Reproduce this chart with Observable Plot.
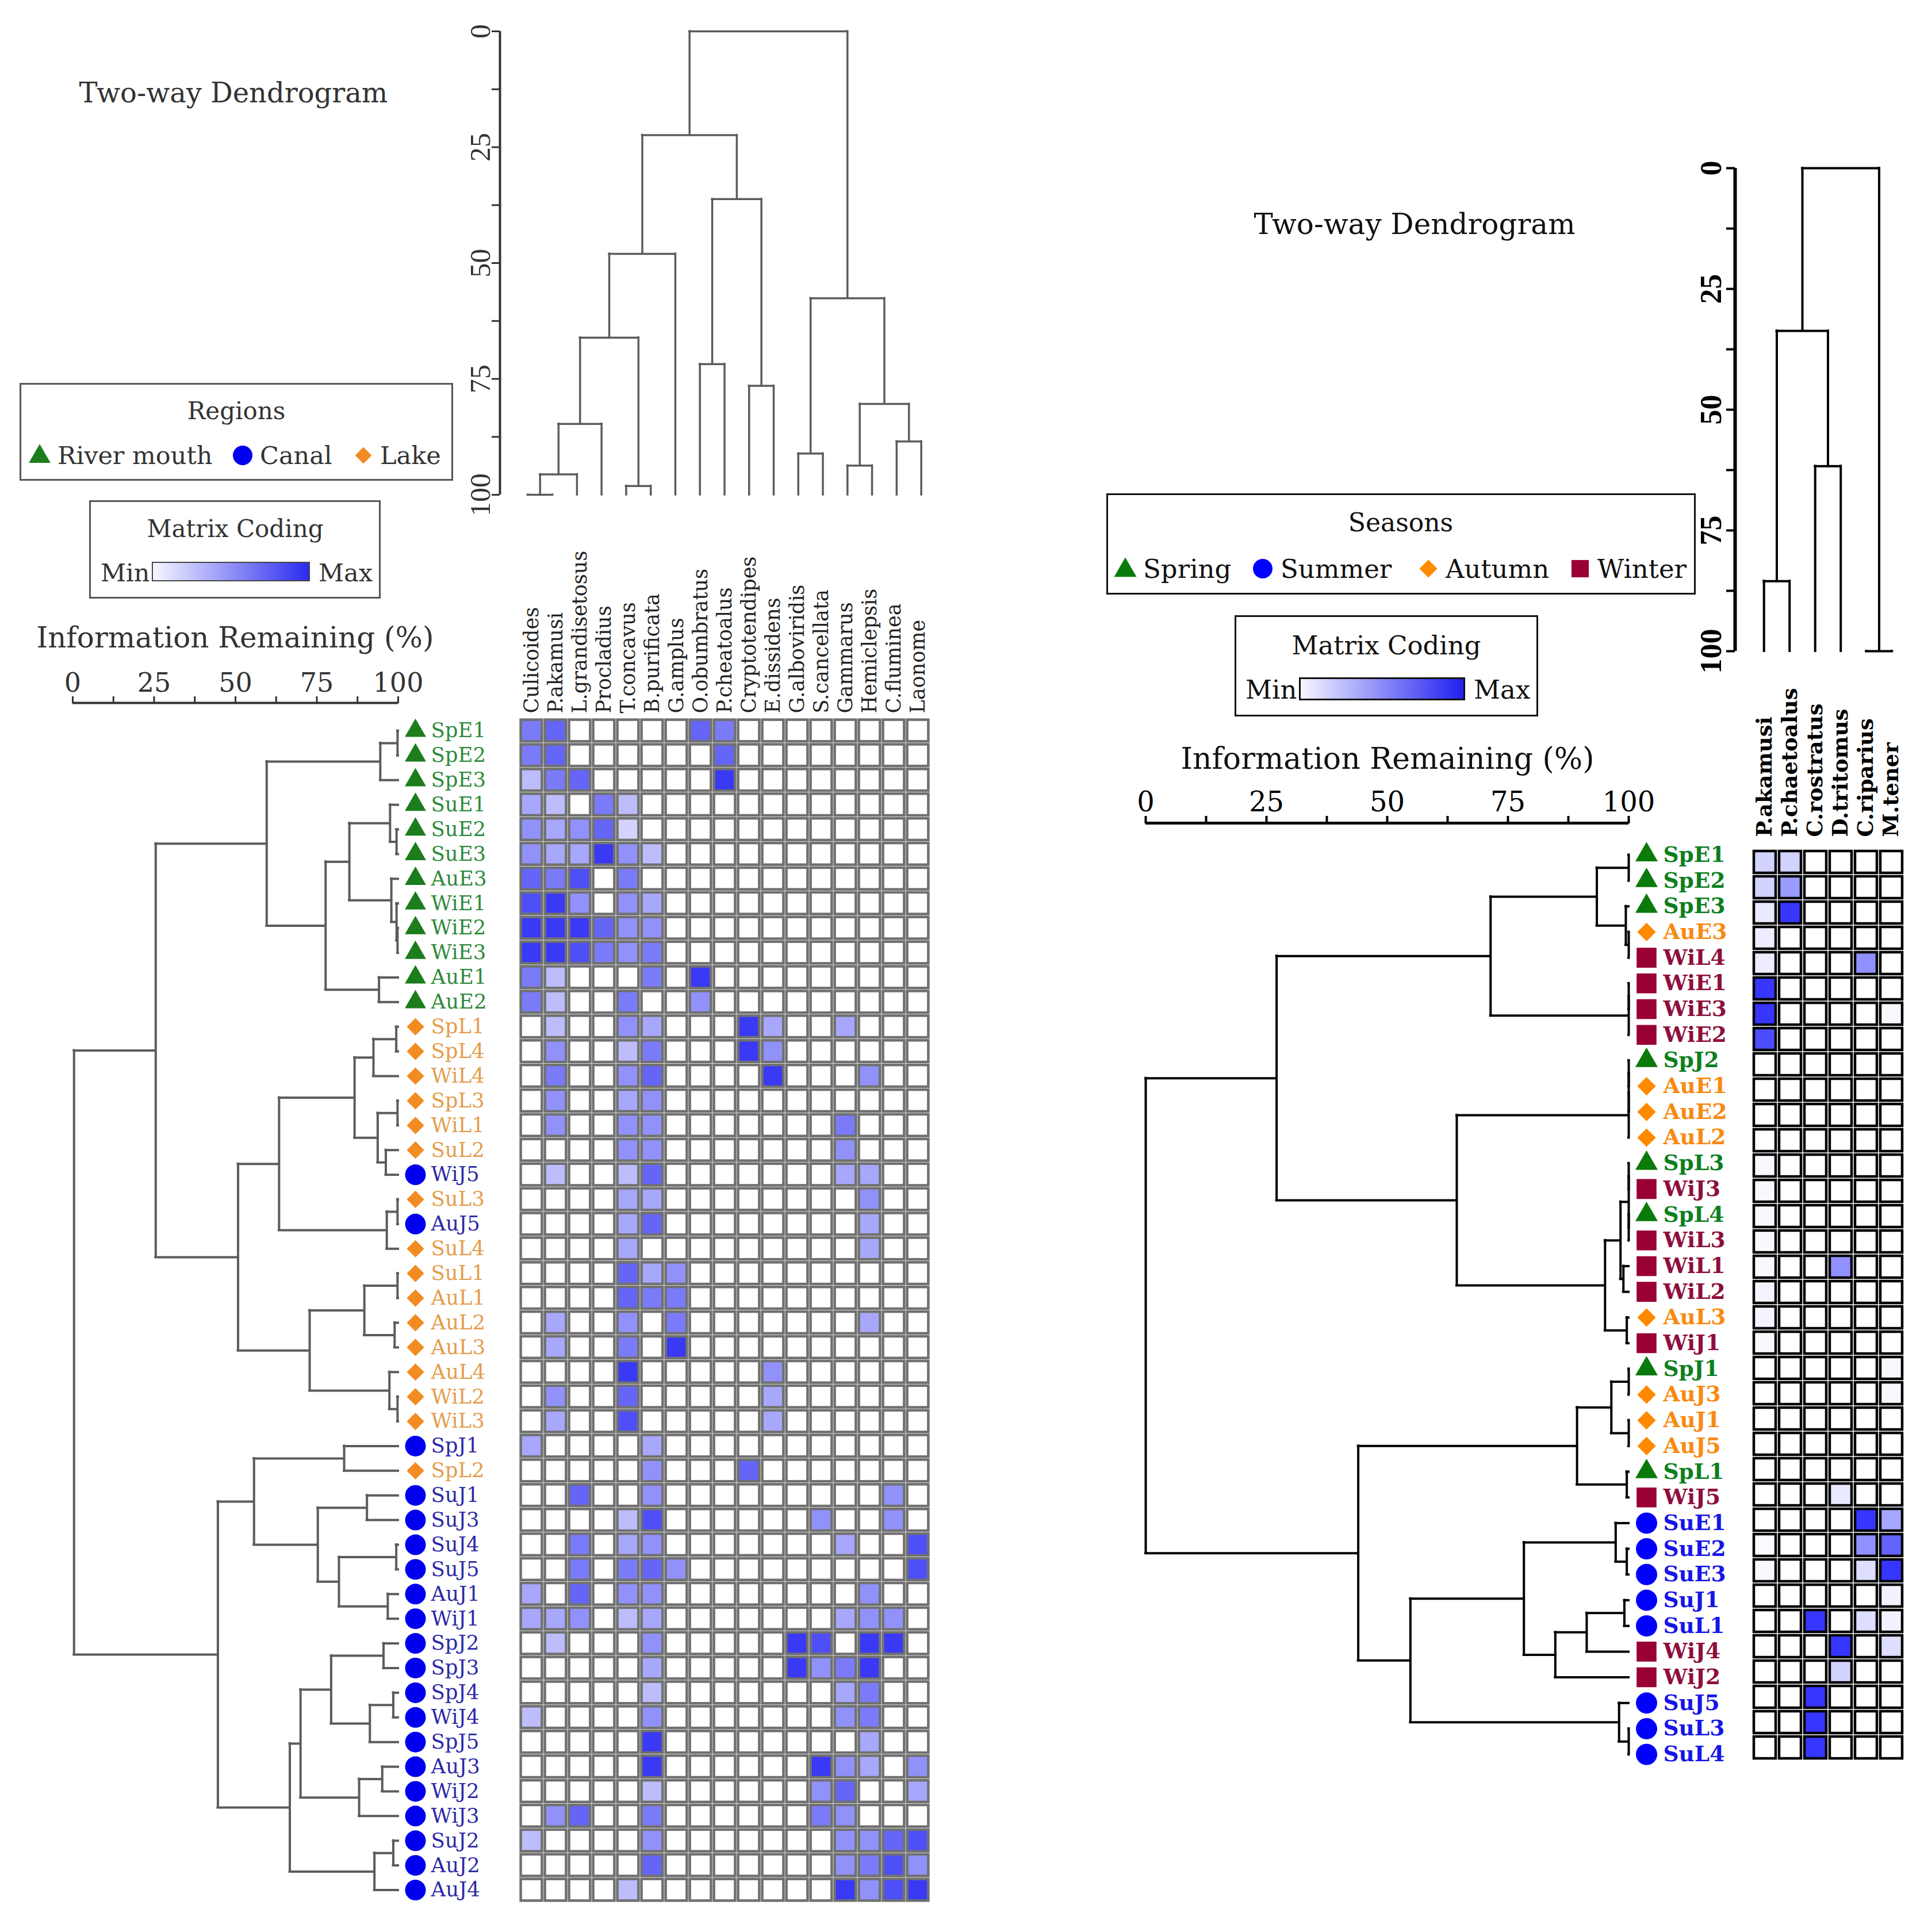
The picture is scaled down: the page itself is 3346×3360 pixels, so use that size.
<!DOCTYPE html>
<html><head><meta charset="utf-8">
<script src="https://cdn.jsdelivr.net/npm/d3@7"></script>
<script src="https://cdn.jsdelivr.net/npm/@observablehq/plot@0.6"></script>
<style>
html,body{margin:0;padding:0;background:#fff;}
#root{position:relative;width:3346px;height:3360px;background:#fff;overflow:hidden;}
.t{position:absolute;white-space:nowrap;line-height:1;}
.box{position:absolute;box-sizing:border-box;}
</style></head><body><div id="root"></div>
<script>
// ---------------- DATA ----------------
const infoTicks = [0, 12.5, 25, 37.5, 50, 62.5, 75, 87.5, 100];
const infoTickLabels = [0, 25, 50, 75, 100];

const regionNames = ["River mouth", "Canal", "Lake"];
const seasonNames = ["Spring", "Summer", "Autumn", "Winter"];

const leftCols = ["Culicoides","P.akamusi","L.grandisetosus","Procladius","T.concavus","B.purificata","G.amplus","O.obumbratus","P.cheatoalus","Cryptotendipes","E.dissidens","G.alboviridis","S.cancellata","Gammarus","Hemiclepsis","C.fluminea","Laonome"];
const leftRows = ["SpE1","SpE2","SpE3","SuE1","SuE2","SuE3","AuE3","WiE1","WiE2","WiE3","AuE1","AuE2",
  "SpL1","SpL4","WiL4","SpL3","WiL1","SuL2","WiJ5","SuL3","AuJ5","SuL4","SuL1","AuL1","AuL2","AuL3","AuL4","WiL2","WiL3",
  "SpJ1","SpL2","SuJ1","SuJ3","SuJ4","SuJ5","AuJ1","WiJ1","SpJ2","SpJ3","SpJ4","WiJ4","SpJ5","AuJ3","WiJ2","WiJ3","SuJ2","AuJ2","AuJ4"];
// relative abundance (0 = min, 10 = max), one row per sample, columns as leftCols
const leftValues = [
  [6,7,0,0,0,0,0,7,6,0,0,0,0,0,0,0,0],
  [6,7,0,0,0,0,0,0,7,0,0,0,0,0,0,0,0],
  [3,6,7,0,0,0,0,0,9,0,0,0,0,0,0,0,0],
  [4,3,0,6,3,0,0,0,0,0,0,0,0,0,0,0,0],
  [5,4,5,7,2,0,0,0,0,0,0,0,0,0,0,0,0],
  [5,4,4,9,5,3,0,0,0,0,0,0,0,0,0,0,0],
  [7,6,8,0,6,0,0,0,0,0,0,0,0,0,0,0,0],
  [8,9,5,0,5,4,0,0,0,0,0,0,0,0,0,0,0],
  [9,9,9,7,5,5,0,0,0,0,0,0,0,0,0,0,0],
  [9,9,8,6,5,6,0,0,0,0,0,0,0,0,0,0,0],
  [6,3,0,0,0,6,0,9,0,0,0,0,0,0,0,0,0],
  [6,3,0,0,6,0,0,5,0,0,0,0,0,0,0,0,0],
  [0,3,0,0,5,4,0,0,0,9,4,0,0,4,0,0,0],
  [0,5,0,0,3,6,0,0,0,9,5,0,0,0,0,0,0],
  [0,6,0,0,5,7,0,0,0,0,9,0,0,0,5,0,0],
  [0,5,0,0,4,5,0,0,0,0,0,0,0,0,0,0,0],
  [0,5,0,0,5,5,0,0,0,0,0,0,0,6,0,0,0],
  [0,0,0,0,5,5,0,0,0,0,0,0,0,5,0,0,0],
  [0,3,0,0,3,7,0,0,0,0,0,0,0,4,4,0,0],
  [0,0,0,0,4,4,0,0,0,0,0,0,0,0,5,0,0],
  [0,0,0,0,4,7,0,0,0,0,0,0,0,0,4,0,0],
  [0,0,0,0,4,0,0,0,0,0,0,0,0,0,4,0,0],
  [0,0,0,0,7,4,5,0,0,0,0,0,0,0,0,0,0],
  [0,0,0,0,7,6,6,0,0,0,0,0,0,0,0,0,0],
  [0,4,0,0,5,0,6,0,0,0,0,0,0,0,4,0,0],
  [0,4,0,0,6,0,9,0,0,0,0,0,0,0,0,0,0],
  [0,0,0,0,9,0,0,0,0,0,5,0,0,0,0,0,0],
  [0,5,0,0,7,0,0,0,0,0,4,0,0,0,0,0,0],
  [0,4,0,0,8,0,0,0,0,0,4,0,0,0,0,0,0],
  [4,0,0,0,0,4,0,0,0,0,0,0,0,0,0,0,0],
  [0,0,0,0,0,5,0,0,0,7,0,0,0,0,0,0,0],
  [0,0,7,0,0,5,0,0,0,0,0,0,0,0,0,5,0],
  [0,0,0,0,3,8,0,0,0,0,0,0,5,0,0,5,0],
  [0,0,6,0,4,5,0,0,0,0,0,0,0,4,0,0,8],
  [0,0,6,0,6,7,5,0,0,0,0,0,0,0,0,0,8],
  [4,0,7,0,5,5,0,0,0,0,0,0,0,0,5,0,0],
  [4,4,5,0,3,4,0,0,0,0,0,0,0,4,5,5,0],
  [0,3,0,0,0,5,0,0,0,0,0,9,8,0,9,9,0],
  [0,0,0,0,0,4,0,0,0,0,0,9,5,6,9,0,0],
  [0,0,0,0,0,3,0,0,0,0,0,0,0,4,6,0,0],
  [3,0,0,0,0,5,0,0,0,0,0,0,0,5,6,0,0],
  [0,0,0,0,0,9,0,0,0,0,0,0,0,0,4,0,0],
  [0,0,0,0,0,9,0,0,0,0,0,0,9,5,4,0,5],
  [0,0,0,0,0,3,0,0,0,0,0,0,5,7,0,0,4],
  [0,5,7,0,0,6,0,0,0,0,0,0,6,5,0,0,0],
  [3,0,0,0,0,5,0,0,0,0,0,0,0,5,5,7,8],
  [0,0,0,0,0,7,0,0,0,0,0,0,0,5,6,8,5],
  [0,0,0,0,3,0,0,0,0,0,0,0,0,9,5,8,9]
];
// dendrograms: [information remaining (%), left, right]; leaves are joined at 100
const leftRowTree = [0.4,
  [25.5,
    [59.6,
      [94.5, [99.8, "SpE1", "SpE2"], "SpE3"],
      [77.7,
        [85.0,
          [97.5, "SuE1", [99.5, "SuE2", "SuE3"]],
          [97.9, "AuE3", [99.5, "WiE1", [99.8, "WiE2", "WiE3"]]]],
        [94.1, "AuE1", "AuE2"]]],
    [50.8,
      [63.4,
        [86.6,
          [92.4, [99.4, "SpL1", "SpL4"], "WiL4"],
          [93.7, [99.8, "SpL3", "WiL1"], [96.2, "SuL2", "WiJ5"]]],
        [96.5, [99.8, "SuL3", "AuJ5"], "SuL4"]],
      [72.8,
        [89.6, [99.8, "SuL1", "AuL1"], [98.9, "AuL2", "AuL3"]],
        [97.3, "AuL4", [99.8, "WiL2", "WiL3"]]]]],
  [44.6,
    [55.7,
      [83.4, "SpJ1", "SpL2"],
      [75.3,
        [90.4, "SuJ1", "SuJ3"],
        [81.8, [99.4, "SuJ4", "SuJ5"], [96.8, "AuJ1", "WiJ1"]]]],
    [66.7,
      [70.0,
        [79.4, [95.5, "SpJ2", "SpJ3"], [91.3, [98.5, "SpJ4", "WiJ4"], "SpJ5"]],
        [88.0, [95.1, "AuJ3", "WiJ2"], "WiJ3"]],
      [92.7, [98.5, "SuJ2", "AuJ2"], "AuJ4"]]]];
const leftColTree = [0,
  [22.4,
    [48.0,
      [66.1,
        [84.7, [95.6, [100, "Culicoides", "P.akamusi"], "L.grandisetosus"], "Procladius"],
        [98.1, "T.concavus", "B.purificata"]],
      "G.amplus"],
    [36.2, [71.8, "O.obumbratus", "P.cheatoalus"], [76.5, "Cryptotendipes", "E.dissidens"]]],
  [57.6,
    [91.1, "G.alboviridis", "S.cancellata"],
    [80.4, [93.7, "Gammarus", "Hemiclepsis"], [88.5, "C.fluminea", "Laonome"]]]];

const rightCols = ["P.akamusi","P.chaetoalus","C.rostratus","D.tritomus","C.riparius","M.tener"];
const rightRows = ["SpE1","SpE2","SpE3","AuE3","WiL4","WiE1","WiE3","WiE2","SpJ2","AuE1","AuE2","AuL2",
  "SpL3","WiJ3","SpL4","WiL3","WiL1","WiL2","AuL3","WiJ1","SpJ1","AuJ3","AuJ1","AuJ5","SpL1","WiJ5",
  "SuE1","SuE2","SuE3","SuJ1","SuL1","WiJ4","WiJ2","SuJ5","SuL3","SuL4"];
const rightValues = [
  [2,2,0,0,0,0],[2,4.5,0,0,0,0],[1,9,0,0,0,0],[0.8,0,0,0,0,0],[0.8,0,0,0,5,0],
  [9,0,0,0,0,0],[9,0,0,0,0,0.3],[8,0,0,0,0,0],[0,0,0,0,0,0],[0,0,0,0,0,0],
  [0,0,0,0,0,0],[0,0,0,0,0,0],[0.3,0,0,0,0,0],[0.3,0,0,0,0,0],[0.3,0,0,0,0,0],
  [0.3,0,0,0,0,0],[0.3,0,0,5,0,0],[0.5,0,0,0,0,0],[0.5,0,0,0,0,0],[0.3,0,0,0,0,0],
  [0,0,0,0,0,0.3],[0,0,0,0,0,0.3],[0,0,0,0,0,0],[0,0,0,0,0,0],[0,0,0,0,0,0],
  [0,0,0,1,0,0],[0,0,0,0,9,4],[0.2,0,0,0,5,7],[0.3,0,0,0,1.5,9],[0,0,0,0,0,0.6],
  [0,0,9,0,1.5,0.6],[0,0,0,9,0,1.5],[0,0,0,2,0,0],[0,0,9,0,0,0],[0,0,9,0,0,0],[0,0,9,0,0,0]
];
const rightRowTree = [0,
  [27.1,
    [71.4,
      [93.4, [100, "SpE1", "SpE2"], [99.4, "SpE3", [100, "AuE3", "WiL4"]]],
      [100, [100, "WiE1", "WiE3"], "WiE2"]],
    [64.4,
      [100, [100, [100, "SpJ2", "AuE1"], "AuE2"], "AuL2"],
      [95.1,
        [98.3, [100, [100, "SpL3", "WiJ3"], [100, "SpL4", "WiL3"]], [98.9, "WiL1", "WiL2"]],
        [99.6, "AuL3", "WiJ1"]]]],
  [44.0,
    [89.3,
      [96.4, [100, "SpJ1", "AuJ3"], [100, "AuJ1", "AuJ5"]],
      [99.6, "SpL1", "WiJ5"]],
    [54.8,
      [78.3,
        [97.3, "SuE1", [99.6, "SuE2", "SuE3"]],
        [84.8, [91.3, [99.1, "SuJ1", "SuL1"], "WiJ4"], "WiJ2"]],
      [98.0, "SuJ5", [100, "SuL3", "SuL4"]]]]];
const rightColTree = [0,
  [33.7, [85.5, "P.akamusi", "P.chaetoalus"], [61.7, "C.rostratus", "D.tritomus"]],
  [100, "C.riparius", "M.tener"]];

// ---------------- HELPERS ----------------
const root = document.getElementById("root");
function addPlot(left, top, options) {
  const el = Plot.plot({...options, style: {background: "transparent", maxWidth: "none", overflow: "visible"}});
  el.style.position = "absolute";
  el.style.left = left + "px";
  el.style.top = top + "px";
  root.appendChild(el);
  return el;
}
function dendro(tree, order) {
  const legs = [], bars = [];
  (function walk(n) {
    if (typeof n === "string") return {pos: order.indexOf(n) + 0.5, h: 100};
    const [h, a, b] = n;
    const A = walk(a), B = walk(b);
    legs.push({pos: A.pos, h1: A.h, h2: h});
    legs.push({pos: B.pos, h1: B.h, h2: h});
    bars.push({h, p1: A.pos, p2: B.pos});
    return {pos: (A.pos + B.pos) / 2, h};
  })(tree);
  return {legs, bars};
}
function cellsOf(rows, cols, values) {
  const out = [];
  rows.forEach((r, i) => cols.forEach((c, j) => out.push({row: r, col: c, v: values[i][j]})));
  return out;
}
function txt(str, x, y, {size, family = "DejaVu Serif", color = "#333", anchor = "middle", weight = "normal"}) {
  const d = document.createElement("div");
  d.className = "t";
  d.textContent = str;
  d.style.left = x + "px"; d.style.top = y + "px";
  d.style.fontSize = size + "px"; d.style.fontFamily = family; d.style.color = color; d.style.fontWeight = weight;
  d.style.transform = anchor === "middle" ? "translate(-50%,-50%)" : "translate(0,-50%)";
  root.appendChild(d);
}
function box(x1, y1, x2, y2, border) {
  const d = document.createElement("div");
  d.className = "box";
  Object.assign(d.style, {left: x1 + "px", top: y1 + "px", width: (x2 - x1) + "px", height: (y2 - y1) + "px", border});
  root.appendChild(d);
  return d;
}
const symMap = {triangle: d3.symbolTriangle, circle: d3.symbolCircle, diamond2: d3.symbolDiamond2, square: d3.symbolSquare};
function sym(type, cx, cy, r, color) {
  const ns = "http://www.w3.org/2000/svg";
  const s = document.createElementNS(ns, "svg");
  s.setAttribute("width", 60); s.setAttribute("height", 60);
  s.style.position = "absolute"; s.style.left = (cx - 30) + "px"; s.style.top = (cy - 30) + "px";
  const p = document.createElementNS(ns, "path");
  p.setAttribute("d", d3.symbol(symMap[type], Math.PI * r * r)());
  p.setAttribute("transform", "translate(30,30)");
  p.setAttribute("fill", color);
  s.appendChild(p);
  root.appendChild(s);
}

// ---------------- LEFT PANEL ----------------
const regionStyle = {
  "River mouth": {symbol: "triangle", r: 13.7, fill: "#1b7d1b", text: "#2f8a3c"},
  "Canal": {symbol: "circle", r: 18, fill: "#0000ee", text: "#2a2aa6"},
  "Lake": {symbol: "diamond2", r: 13.6, fill: "#f28b22", text: "#e39d4c"}
};
const regionOf = s => ({E: "River mouth", J: "Canal", L: "Lake"})[s[2]];
const leftRowData = leftRows.map((label, i) => ({label, pos: i + 0.5, group: regionOf(label)}));
const LR = dendro(leftRowTree, leftRows);
const LC = dendro(leftColTree, leftCols);
const grayLine = {stroke: "#5c5c5c", strokeWidth: 4, strokeLinecap: "square"};

// information axis (left)
addPlot(0, 1100, {
  width: 890, height: 130, marginLeft: 126, marginRight: 198, marginTop: 122, marginBottom: 0,
  x: {domain: [0, 100], axis: null}, y: {domain: [0, 1], axis: null},
  marks: [
    Plot.ruleY([1], {stroke: "#333", strokeWidth: 4}),
    Plot.axisX(infoTicks, {anchor: "top", tickSize: 12, tickPadding: 8, strokeWidth: 3, color: "#333",
      tickFormat: d => infoTickLabels.includes(d) ? String(d) : "", fontSize: 46, fontFamily: "DejaVu Serif"})
  ]
});
// row dendrogram + labels (left)
addPlot(0, 1200, {
  width: 890, height: 2158, marginLeft: 126, marginRight: 198, marginTop: 49, marginBottom: 50,
  x: {domain: [0, 100], axis: null},
  y: {domain: [0, leftRows.length], reverse: true, axis: null},
  color: {type: "identity"},
  marks: [
    Plot.ruleY(LR.legs, {y: "pos", x1: "h1", x2: "h2", ...grayLine}),
    Plot.ruleX(LR.bars, {x: "h", y1: "p1", y2: "p2", ...grayLine}),
    ...regionNames.map(g => Plot.dot(leftRowData.filter(d => d.group === g),
      {y: "pos", frameAnchor: "right", dx: 30, symbol: regionStyle[g].symbol, r: regionStyle[g].r, fill: regionStyle[g].fill, stroke: "none"})),
    Plot.text(leftRowData, {y: "pos", text: "label", frameAnchor: "right", dx: 57, textAnchor: "start",
      fill: d => regionStyle[d.group].text, fontSize: 35.5, fontFamily: "DejaVu Serif"})
  ]
});
// matrix + column labels (left)
addPlot(880, 880, {
  width: 763, height: 2458, marginLeft: 16, marginRight: 20, marginTop: 369, marginBottom: 30,
  x: {domain: leftCols, axis: null, padding: 0},
  y: {domain: leftRows, axis: null, padding: 0},
  color: {type: "linear", domain: [0, 10], range: ["#ffffff", "#2323f5"], interpolate: "rgb"},
  marks: [
    Plot.cell(cellsOf(leftRows, leftCols, leftValues), {x: "col", y: "row", fill: "v", stroke: "#707070", strokeWidth: 4.5, inset: 2.6}),
    Plot.text(leftCols, {x: d => d, frameAnchor: "top", rotate: -90, textAnchor: "start", lineAnchor: "middle", dy: -9,
      fontSize: 35, fontFamily: "DejaVu Serif", fill: "#222"})
  ]
});
// column dendrogram (left)
addPlot(700, 0, {
  width: 943, height: 880, marginLeft: 196, marginRight: 20, marginTop: 54, marginBottom: 20,
  x: {domain: [0, leftCols.length], axis: null},
  y: {domain: [0, 100], reverse: true, axis: null},
  marks: [
    Plot.ruleX([0], {y1: 0, y2: 100, dx: -27, stroke: "#333", strokeWidth: 4}),
    Plot.axisY(infoTicks, {anchor: "left", dx: -27, tickSize: 14, tickPadding: 4, tickRotate: -90, strokeWidth: 3, color: "#333",
      tickFormat: d => infoTickLabels.includes(d) ? String(d) : "", fontSize: 50, fontFamily: "Liberation Serif"}),
    Plot.ruleX(LC.legs, {x: "pos", y1: "h1", y2: "h2", ...grayLine, strokeWidth: 3.5}),
    Plot.ruleY(LC.bars, {y: "h", x1: "p1", x2: "p2", ...grayLine, strokeWidth: 3.5})
  ]
});
// legends (left)
txt("Two-way Dendrogram", 406, 161, {size: 48});
box(34, 666, 788, 836, "3px solid #555");
txt("Regions", 411, 715, {size: 42});
sym("triangle", 69, 794, 14, regionStyle["River mouth"].fill);
txt("River mouth", 100, 792, {size: 43, anchor: "start"});
sym("circle", 422, 792, 17, regionStyle["Canal"].fill);
txt("Canal", 452, 792, {size: 43, anchor: "start"});
sym("diamond2", 632, 792, 13, regionStyle["Lake"].fill);
txt("Lake", 661, 792, {size: 43, anchor: "start"});
box(155, 870, 662, 1041, "3px solid #555");
txt("Matrix Coding", 409, 920, {size: 42});
txt("Min", 175, 996, {size: 43, anchor: "start"});
const lg = box(264, 977, 539, 1011, "2px solid #444");
lg.style.background = "linear-gradient(to right, #f6f6ff, #2b2bf0)";
txt("Max", 554, 996, {size: 43, anchor: "start"});
txt("Information Remaining (%)", 409, 1109, {size: 50});

// ---------------- RIGHT PANEL ----------------
const seasonStyle = {
  "Spring": {symbol: "triangle", r: 14.5, fill: "#0b7a0b", text: "#0d7f20"},
  "Summer": {symbol: "circle", r: 18.5, fill: "#0000ff", text: "#1515e8"},
  "Autumn": {symbol: "diamond2", r: 14.5, fill: "#ff8a00", text: "#f88a12"},
  "Winter": {symbol: "square", r: 19.5, fill: "#990033", text: "#8e0f3c"}
};
const seasonOf = s => ({Sp: "Spring", Su: "Summer", Au: "Autumn", Wi: "Winter"})[s.slice(0, 2)];
const rightRowData = rightRows.map((label, i) => ({label, pos: i + 0.5, group: seasonOf(label)}));
const RR = dendro(rightRowTree, rightRows);
const RC = dendro(rightColTree, rightCols);
const blackLine = {stroke: "#000", strokeWidth: 4, strokeLinecap: "square"};

addPlot(1900, 1300, {
  width: 1140, height: 140, marginLeft: 92, marginRight: 208, marginTop: 131, marginBottom: 0,
  x: {domain: [0, 100], axis: null}, y: {domain: [0, 1], axis: null},
  marks: [
    Plot.ruleY([1], {stroke: "#000", strokeWidth: 5}),
    Plot.axisX(infoTicks, {anchor: "top", tickSize: 13, tickPadding: 8, strokeWidth: 4, color: "#000",
      tickFormat: d => infoTickLabels.includes(d) ? String(d) : "", fontSize: 48, fontFamily: "DejaVu Serif"})
  ]
});
addPlot(1900, 1420, {
  width: 1140, height: 1693, marginLeft: 92, marginRight: 208, marginTop: 44, marginBottom: 40,
  x: {domain: [0, 100], axis: null},
  y: {domain: [0, rightRows.length], reverse: true, axis: null},
  color: {type: "identity"},
  marks: [
    Plot.ruleY(RR.legs, {y: "pos", x1: "h1", x2: "h2", ...blackLine}),
    Plot.ruleX(RR.bars, {x: "h", y1: "p1", y2: "p2", ...blackLine}),
    ...seasonNames.map(g => Plot.dot(rightRowData.filter(d => d.group === g),
      {y: "pos", frameAnchor: "right", dx: 31, symbol: seasonStyle[g].symbol, r: seasonStyle[g].r, fill: seasonStyle[g].fill, stroke: "none"})),
    Plot.text(rightRowData, {y: "pos", text: "label", frameAnchor: "right", dx: 60, textAnchor: "start",
      fill: d => seasonStyle[d.group].text, fontSize: 37.5, fontWeight: "bold", fontFamily: "DejaVu Serif"})
  ]
});
addPlot(3030, 1100, {
  width: 307, height: 2003, marginLeft: 15, marginRight: 25, marginTop: 364, marginBottom: 30,
  x: {domain: rightCols, axis: null, padding: 0},
  y: {domain: rightRows, axis: null, padding: 0},
  color: {type: "linear", domain: [0, 10], range: ["#ffffff", "#2020ff"], interpolate: "rgb"},
  marks: [
    Plot.cell(cellsOf(rightRows, rightCols, rightValues), {x: "col", y: "row", fill: "v", stroke: "#000", strokeWidth: 4.5, inset: 3}),
    Plot.text(rightCols, {x: d => d, frameAnchor: "top", rotate: -90, textAnchor: "start", lineAnchor: "middle", dy: -9,
      fontSize: 37, fontWeight: "bold", fontFamily: "DejaVu Serif", fill: "#000"})
  ]
});
addPlot(2900, 240, {
  width: 437, height: 912, marginLeft: 145, marginRight: 25, marginTop: 52, marginBottom: 20,
  x: {domain: [0, rightCols.length], axis: null},
  y: {domain: [0, 100], reverse: true, axis: null},
  marks: [
    Plot.ruleX([0], {y1: 0, y2: 100, dx: -28, stroke: "#000", strokeWidth: 6}),
    Plot.axisY(infoTicks, {anchor: "left", dx: -28, tickSize: 15, tickPadding: 10, tickRotate: -90, strokeWidth: 4, color: "#000",
      tickFormat: d => infoTickLabels.includes(d) ? String(d) : "", fontSize: 52, fontWeight: "bold", fontFamily: "Liberation Serif"}),
    Plot.ruleX(RC.legs, {x: "pos", y1: "h1", y2: "h2", ...blackLine}),
    Plot.ruleY(RC.bars, {y: "h", x1: "p1", x2: "p2", ...blackLine})
  ]
});
txt("Two-way Dendrogram", 2460, 390, {size: 50, color: "#111"});
box(1924, 858, 2949, 1034, "3px solid #111");
txt("Seasons", 2436, 909, {size: 44, color: "#111"});
sym("triangle", 1957, 992, 14.5, seasonStyle.Spring.fill);
txt("Spring", 1988, 989, {size: 45, anchor: "start", color: "#111"});
sym("circle", 2196, 989, 17, seasonStyle.Summer.fill);
txt("Summer", 2227, 989, {size: 45, anchor: "start", color: "#111"});
sym("diamond2", 2484, 989, 14, seasonStyle.Autumn.fill);
txt("Autumn", 2514, 989, {size: 45, anchor: "start", color: "#111"});
sym("square", 2748, 989, 17, seasonStyle.Winter.fill);
txt("Winter", 2778, 989, {size: 45, anchor: "start", color: "#111"});
box(2147, 1070, 2675, 1246, "3px solid #111");
txt("Matrix Coding", 2411, 1122, {size: 45, color: "#111"});
txt("Min", 2166, 1199, {size: 45, anchor: "start", color: "#111"});
const rg = box(2259, 1178, 2548, 1218, "3px solid #111");
rg.style.background = "linear-gradient(to right, #f6f6ff, #2020f0)";
txt("Max", 2563, 1199, {size: 45, anchor: "start", color: "#111"});
txt("Information Remaining (%)", 2413, 1319, {size: 52, color: "#111"});
</script></body></html>
